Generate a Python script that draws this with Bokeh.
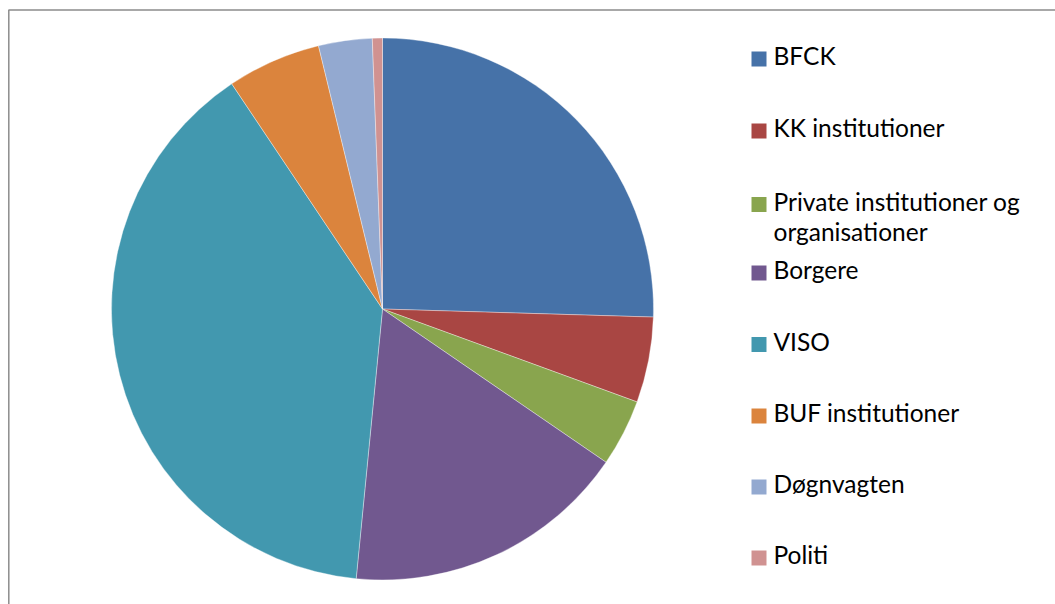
import math
from bokeh.plotting import figure
from bokeh.models import Range1d, ColumnDataSource
from bokeh.core.properties import value
from bokeh.embed import file_html
from bokeh.resources import INLINE

# ---- data ----
categories = ["BFCK", "KK institutioner", "Private institutioner og\norganisationer",
              "Borgere", "VISO", "BUF institutioner", "Døgnvagten", "Politi"]
shares = [25.5, 5.1, 4.0, 17.0, 39.1, 5.6, 3.2, 0.6]
colors = ["#4672A8", "#A94643", "#89A54E", "#71588F", "#4298AF", "#DB843D", "#93A9D0", "#D09291"]

# ---- layout (pixels within figure, y measured from top) ----
W, H = 1055, 604
cx, cy, R = 382, 308.5, 271
legend_baselines = [66, 138, 211.5, 280, 351.5, 423, 494, 565]
sq_x = 758.5
txt_x = 773
fs = 24.5

p = figure(width=W, height=H, output_backend="svg", toolbar_location=None,
           x_range=Range1d(0, W), y_range=Range1d(0, H),
           x_axis_location=None, y_axis_location=None, min_border=0)
p.grid.visible = False
p.outline_line_color = None
p.background_fill_color = "white"
p.border_fill_color = "white"

total = sum(shares)
starts, ends = [], []
cum = 0.0
for s in shares:
    a0 = math.pi / 2 - 2 * math.pi * cum / total
    cum += s
    a1 = math.pi / 2 - 2 * math.pi * cum / total
    starts.append(a0)
    ends.append(a1)

src = ColumnDataSource(dict(x=[cx] * len(shares), y=[H - cy] * len(shares),
                            start=starts, end=ends, color=colors))
p.wedge(x="x", y="y", radius=R, start_angle="start", end_angle="end",
        direction="clock", fill_color="color", line_color="white",
        line_width=0.6, line_alpha=0.6, source=src)

# chart border (top and left edges visible)
p.line(x=[8.3, 8.3, W + 5], y=[-5, H - 9.5, H - 9.5], line_color="#8c8c8c", line_width=1.5)

# legend
lx, ly, tx, ty, tt = [], [], [], [], []
for cat, b in zip(categories, legend_baselines):
    lines = cat.split("\n")
    lx.append(sq_x)
    ly.append(H - (b - 7.5))
    for i, ln in enumerate(lines):
        tx.append(txt_x)
        ty.append(H - (b + i * 30.5 - 0.5 * fs + 1.5))
        tt.append(ln)
p.scatter(x=lx, y=ly, marker="square", size=15, fill_color=colors, line_color=None)
p.text(x=tx, y=ty, text=tt, text_font=value("Lato"), text_font_size=f"{fs}px",
       text_color="black", text_baseline="middle", text_align="left")

open("out.html", "w").write(file_html(p, INLINE))
